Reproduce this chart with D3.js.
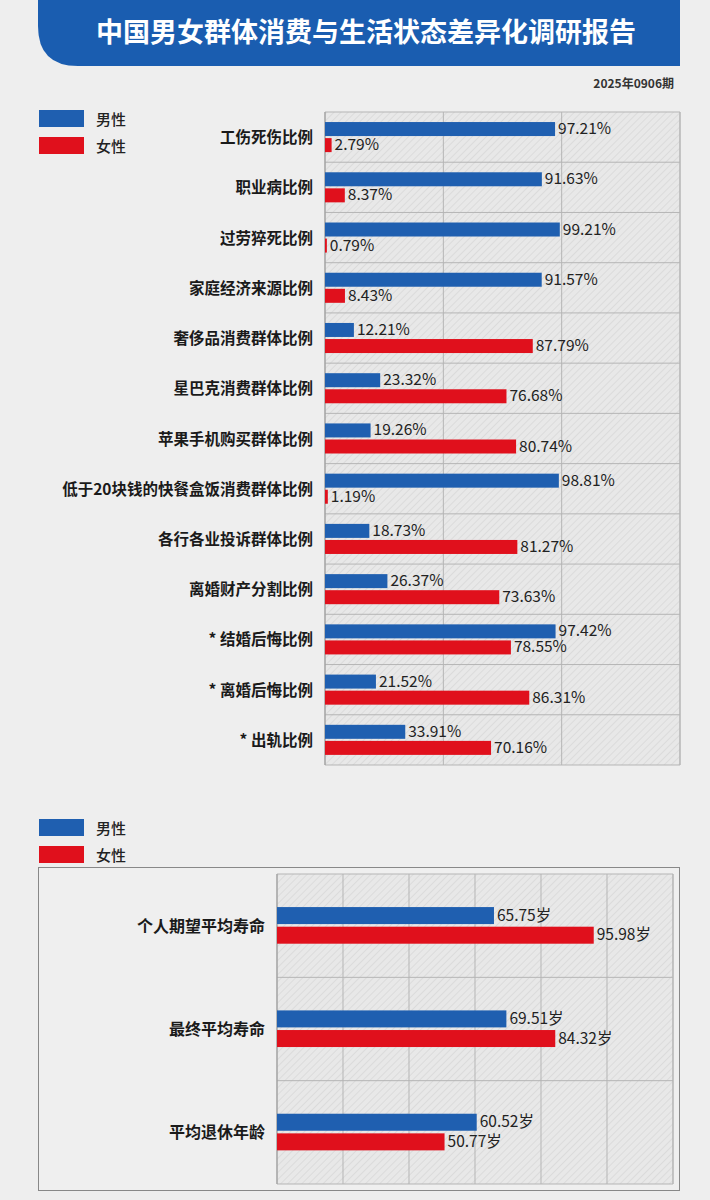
<!DOCTYPE html>
<html><head><meta charset="utf-8">
<script src="https://cdn.jsdelivr.net/npm/d3@7"></script>
<style>body{margin:0;background:#eeeeee;font-family:"Noto Sans CJK SC","Noto Sans",sans-serif;}</style>
</head><body><div id="chart"></div>
<script>
// top chart data
var topCats = ["工伤死伤比例","职业病比例","过劳猝死比例","家庭经济来源比例","奢侈品消费群体比例","星巴克消费群体比例","苹果手机购买群体比例","低于20块钱的快餐盒饭消费群体比例","各行各业投诉群体比例","离婚财产分割比例","* 结婚后悔比例","* 离婚后悔比例","* 出轨比例"];
var topMale = [97.21,91.63,99.21,91.57,12.21,23.32,19.26,98.81,18.73,26.37,97.42,21.52,33.91];
var topFemale = [2.79,8.37,0.79,8.43,87.79,76.68,80.74,1.19,81.27,73.63,78.55,86.31,70.16];
// bottom chart data
var botCats = ["个人期望平均寿命","最终平均寿命","平均退休年龄"];
var botMale = [65.75,69.51,60.52];
var botFemale = [95.98,84.32,50.77];
var seriesNames = ["男性","女性"];
var blue = "#1f5fb0", red = "#e0101c";

var svg = d3.select("#chart").append("svg").attr("width",710).attr("height",1200);
svg.append("rect").attr("width",710).attr("height",1200).attr("fill","#eeeeee");

var defs = svg.append("defs");
var pat = defs.append("pattern").attr("id","hatch").attr("patternUnits","userSpaceOnUse")
  .attr("width",5).attr("height",5).attr("patternTransform","rotate(45)");
pat.append("rect").attr("width",5).attr("height",5).attr("fill","#e8e8e8");
pat.append("line").attr("x1",0).attr("y1",0).attr("x2",0).attr("y2",5).attr("stroke","#d2d2d2").attr("stroke-width",1.2);

// banner
svg.append("path").attr("d","M38,0 H680 V66 H78 Q38,66 38,26 Z").attr("fill","#1a5db0");
svg.append("text").attr("x",366).attr("y",42).attr("text-anchor","middle").attr("fill","#fff")
  .attr("font-size",27).attr("font-weight","bold").text("中国男女群体消费与生活状态差异化调研报告");
svg.append("text").attr("x",674).attr("y",88).attr("text-anchor","end").attr("fill","#333")
  .attr("font-size",12).attr("font-weight","bold").text("2025年0906期");

function legend(y0){
  seriesNames.forEach(function(n,i){
    svg.append("rect").attr("x",39).attr("y",y0+i*27).attr("width",45).attr("height",17).attr("fill",i?red:blue);
    svg.append("text").attr("x",96).attr("y",y0+i*27+15).attr("font-size",15).attr("font-weight","500").attr("fill","#222").text(n);
  });
}
legend(110);
legend(819);

function drawChart(o){
  var g = svg.append("g");
  var x = d3.scaleLinear().domain(o.domain).range([o.x0,o.x1]);
  var y = d3.scaleBand().domain(o.cats).range([o.y0,o.y1]);
  g.append("rect").attr("x",o.x0).attr("y",o.y0).attr("width",o.x1-o.x0).attr("height",o.y1-o.y0).attr("fill","url(#hatch)");
  g.selectAll(".vg").data(x.ticks(o.nt)).enter().append("line")
    .attr("x1",d=>x(d)).attr("x2",d=>x(d)).attr("y1",o.y0).attr("y2",o.y1).attr("stroke","#b5b5b5");
  g.selectAll(".hg").data(o.cats).enter().append("line")
    .attr("x1",o.x0).attr("x2",o.x1).attr("y1",d=>y(d)).attr("y2",d=>y(d)).attr("stroke","#b5b5b5");
  g.append("line").attr("x1",o.x0).attr("x2",o.x1).attr("y1",o.y1).attr("y2",o.y1).attr("stroke","#b5b5b5");
  g.append("line").attr("x1",o.x1).attr("x2",o.x1).attr("y1",o.y0).attr("y2",o.y1).attr("stroke","#b5b5b5");
  g.append("line").attr("x1",o.x0).attr("x2",o.x0).attr("y1",o.y0).attr("y2",o.y1).attr("stroke","#999");
  var bw = y.bandwidth();
  [o.male,o.female].forEach(function(vals,si){
    o.cats.forEach(function(c,i){
      var by = y(c)+bw*o.off[si];
      g.append("rect").attr("x",x(0)).attr("y",by).attr("width",Math.max(1.5,x(vals[i])-x(0))).attr("height",o.bh)
        .attr("fill",si?red:blue);
      g.append("text").attr("x",x(vals[i])+3).attr("y",by+o.bh/2+5).attr("font-size",o.fs).attr("fill","#222")
        .text(vals[i].toFixed(2)+o.unit);
    });
  });
  g.selectAll(".cl").data(o.cats).enter().append("text")
    .attr("x",o.x0-12).attr("y",d=>y(d)+bw/2+6).attr("text-anchor","end").attr("font-size",o.lfs)
    .attr("fill","#1a1a1a").attr("font-weight","bold").text(d=>d);
}

drawChart({cats:topCats,male:topMale,female:topFemale,domain:[0,150],nt:3,x0:325,x1:680,y0:112,y1:765,
  off:[0.2,0.52],bh:14,fs:15.5,lfs:15.5,unit:"%"});

// bottom frame
svg.append("rect").attr("x",38.5).attr("y",867.5).attr("width",641).attr("height",323).attr("fill","#efefef").attr("stroke","#888");
drawChart({cats:botCats,male:botMale,female:botFemale,domain:[0,120],nt:6,x0:277,x1:673,y0:874,y1:1184,
  off:[0.32,0.51],bh:17,fs:15.5,lfs:16,unit:"岁"});
</script></body></html>
